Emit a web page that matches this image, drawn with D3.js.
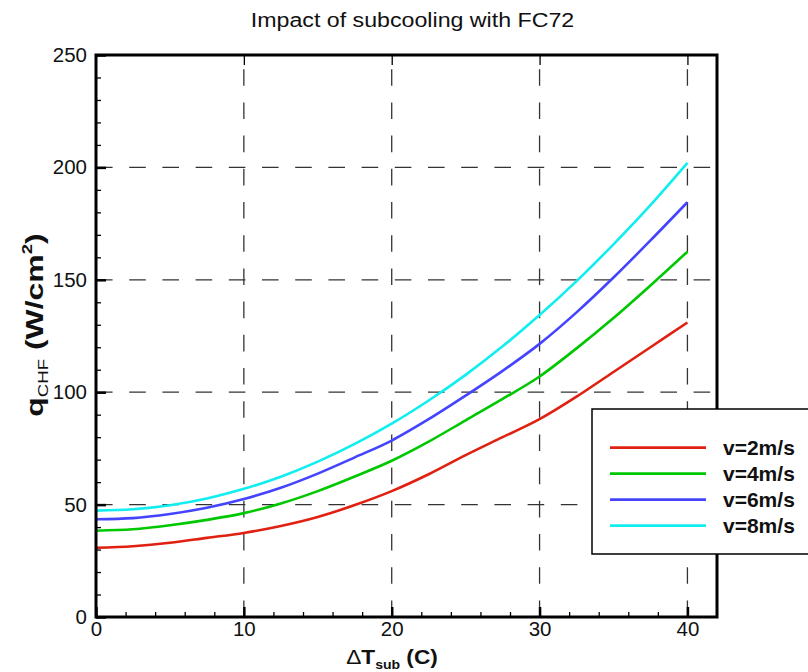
<!DOCTYPE html>
<html>
<head>
<meta charset="utf-8">
<script src="https://cdn.jsdelivr.net/npm/d3@7"></script>
<style>
  html, body { margin: 0; padding: 0; background: #fff; }
  svg { display: block; }
  text { font-family: "Liberation Sans", Arial, sans-serif; }
</style>
</head>
<body>
<div id="chart"></div>
<script>
// ---- data ----
const xValues = [0, 2.5, 5, 7.5, 10, 12.5, 15, 17.5, 20, 22.5, 25, 27.5, 30, 32.5, 35, 37.5, 40];
const v2 = [30.8, 31.5, 33, 35.2, 37.4, 40.5, 44.5, 49.8, 56, 63.5, 72, 80, 88, 98, 109, 120, 131];
const v4 = [38.4, 39, 40.8, 43.2, 46.2, 50.5, 56, 62.5, 69.5, 78, 87.5, 97, 107, 119.5, 133, 147.5, 162.5];
const v6 = [43.5, 44, 45.8, 48.6, 52.5, 57.5, 63.8, 71, 78.5, 88, 98.5, 109.5, 121.5, 135.5, 151, 167.5, 184.5];
const v8 = [47.3, 47.9, 49.7, 52.7, 57, 62.4, 69.1, 77, 86, 96.3, 107.7, 120.4, 134.3, 149.4, 165.8, 183.2, 202];
const seriesNames = ["v=2m/s", "v=4m/s", "v=6m/s", "v=8m/s"];
const seriesColors = ["#e02010", "#00c800", "#4444ff", "#10eef0"];
const xMajorTicks = [0, 10, 20, 30, 40];
const yMajorTicks = [0, 50, 100, 150, 200, 250];
const xGrid = [10, 20, 30, 40];
const yGrid = [50, 100, 150, 200];

const allSeries = [v2, v4, v6, v8];

const W = 808, H = 672;
const L = 96, R = 717, T = 55, B = 617;

const svg = d3.select("#chart").append("svg").attr("width", W).attr("height", H);

const x = d3.scaleLinear().domain([0, 42]).range([L, R]);
const y = d3.scaleLinear().domain([0, 250]).range([B, T]);

// grid
const grid = svg.append("g").attr("stroke", "#333").attr("stroke-width", 1.3).attr("stroke-dasharray", "16.6,16.6");
grid.selectAll("line.h").data(yGrid).join("line").attr("class", "h")
  .attr("x1", L).attr("x2", R).attr("y1", d => y(d)).attr("y2", d => y(d));
grid.selectAll("line.v").data(xGrid).join("line").attr("class", "v")
  .attr("x1", d => x(d)).attr("x2", d => x(d)).attr("y1", B).attr("y2", T);

// axes (ticks inward)
function styleAxis(g) {
  g.select(".domain").remove();
  g.selectAll(".tick line").attr("stroke", "#000").attr("stroke-width", 1.3);
  g.selectAll(".tick text").attr("font-size", 20.5).attr("fill", "#111");
}
svg.append("g").attr("transform", `translate(${L},0)`)
  .call(d3.axisLeft(y).tickValues(d3.range(0, 251, 10)).tickSizeInner(-5).tickSizeOuter(0).tickFormat(""))
  .call(styleAxis);
svg.append("g").attr("transform", `translate(${L},0)`)
  .call(d3.axisLeft(y).tickValues(yMajorTicks).tickSizeInner(-10).tickSizeOuter(0).tickPadding(9).tickFormat(d3.format("d")))
  .call(styleAxis)
  .call(g => g.selectAll(".tick line").attr("stroke-width", 2.5));
svg.append("g").attr("transform", `translate(0,${B})`)
  .call(d3.axisBottom(x).tickValues(d3.range(0, 41, 2)).tickSizeInner(-5).tickSizeOuter(0).tickFormat(""))
  .call(styleAxis);
svg.append("g").attr("transform", `translate(0,${B})`)
  .call(d3.axisBottom(x).tickValues(xMajorTicks).tickSizeInner(-10).tickSizeOuter(0).tickPadding(4).tickFormat(d3.format("d")))
  .call(styleAxis)
  .call(g => g.selectAll(".tick line").attr("stroke-width", 2.5));
svg.append("g").attr("transform", `translate(0,${T})`)
  .call(d3.axisTop(x).tickValues(xGrid).tickSizeInner(-10).tickSizeOuter(0).tickFormat(""))
  .call(styleAxis);

// lines
const line = d3.line().x((d, i) => x(xValues[i])).y(d => y(d)).curve(d3.curveMonotoneX);
svg.append("g").selectAll("path").data(allSeries).join("path")
  .attr("d", d => line(d)).attr("fill", "none")
  .attr("stroke", (d, i) => seriesColors[i]).attr("stroke-width", 2.6);

// frame
svg.append("rect").attr("x", L).attr("y", T).attr("width", R - L).attr("height", B - T)
  .attr("fill", "none").attr("stroke", "#000").attr("stroke-width", 3);

// title
svg.append("text").attr("x", 0).attr("y", 0)
  .attr("transform", "translate(412.5,27) scale(1.16,1)")
  .attr("text-anchor", "middle").attr("font-size", 20).attr("fill", "#111")
  .text("Impact of subcooling with FC72");

// y label
const yl = svg.append("text")
  .attr("transform", "translate(43,325) rotate(-90) scale(1.33,1)")
  .attr("text-anchor", "middle").attr("font-size", 24).attr("font-weight", "bold").attr("fill", "#111");
yl.append("tspan").text("q");
yl.append("tspan").attr("font-size", 14).attr("font-weight", "normal").attr("dy", 5).text("CHF");
yl.append("tspan").attr("dy", -5).text(" (W/cm");
yl.append("tspan").attr("font-size", 14).attr("dy", -11).text("2");
yl.append("tspan").attr("dy", 11).text(")");

// x label
const xl = svg.append("text")
  .attr("transform", "translate(392,664) scale(1.08,1)")
  .attr("text-anchor", "middle").attr("font-size", 21).attr("font-weight", "bold").attr("fill", "#111");
xl.append("tspan").attr("font-weight", "normal").text("\u0394");
xl.append("tspan").text("T");
xl.append("tspan").attr("font-size", 13).attr("dy", 5).text("sub");
xl.append("tspan").attr("dy", -5).text(" (C)");

// legend
const lg = svg.append("g");
lg.append("rect").attr("x", 592).attr("y", 409).attr("width", 230).attr("height", 145)
  .attr("fill", "#fff").attr("stroke", "#000").attr("stroke-width", 1.5);
const rows = lg.selectAll("g.row").data(seriesNames).join("g").attr("class", "row")
  .attr("transform", (d, i) => `translate(0,${447.7 + i * 26})`);
rows.append("line").attr("x1", 610).attr("x2", 706).attr("y1", 0).attr("y2", 0)
  .attr("stroke", (d, i) => seriesColors[i]).attr("stroke-width", 2.8);
rows.append("text").attr("x", 723).attr("y", 7.5).attr("font-size", 21).attr("font-weight", "bold")
  .attr("fill", "#111").text(d => d);
</script>
</body>
</html>
